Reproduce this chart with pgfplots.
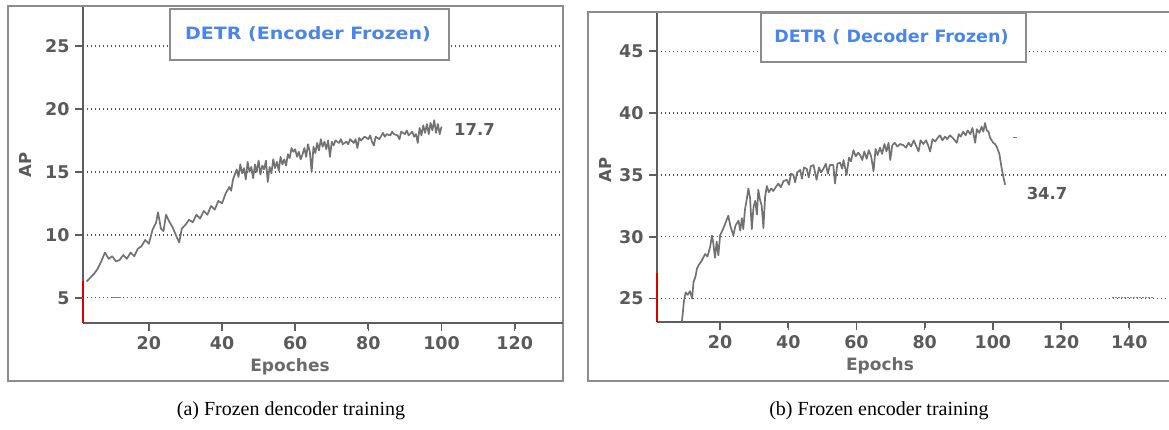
\documentclass[border=0pt]{standalone}
\usepackage{fontspec}
\setmainfont{Liberation Serif}
\newfontfamily\dejavu{DejaVu Sans}
\usepackage{pgfplots}
\pgfplotsset{compat=1.18}
\definecolor{tickgray}{HTML}{5A5A5A}
\definecolor{axisgray}{HTML}{5E5E5E}
\definecolor{framegray}{HTML}{8C8C8C}
\definecolor{gridgray}{HTML}{505050}
\definecolor{curvegray}{HTML}{727272}
\definecolor{titleblue}{HTML}{4A86E8}
\definecolor{labelgray}{HTML}{6A6A6A}
\tikzset{mytick/.style={draw=axisgray, line width=1.8bp}}
\pgfplotsset{
  panel/.style={
    scale only axis, clip=false,
    axis x line*=bottom, axis y line*=left,
    axis line style={draw=axisgray, line width=1.6bp},
    tick align=outside,
    major tick length=8bp,
    tick style={draw=axisgray, line width=1.5bp, solid},
    ymajorgrids,
    grid style={dash pattern=on 1.4bp off 2.6bp, line width=1.3bp, color=gridgray},
    /pgf/number format/assume math mode=true,
    tick label style={font=\dejavu\bfseries\fontsize{17.5bp}{20bp}\selectfont, text=tickgray},
    xticklabel style={yshift=-2bp},
    yticklabel style={xshift=-2bp},
    xtick={20,40,60,80,100,120,140},
  },
}
\begin{document}
\begin{tikzpicture}
\useasboundingbox (0,0) rectangle (1169bp,430bp);
% ---------- left panel ----------
\draw[framegray, line width=1.5bp] (8bp,49bp) rectangle (563bp,424bp);
\begin{axis}[panel,
  at={(83bp,107bp)}, anchor=south west, width=480bp, height=316bp,
  xmin=2, xmax=133.2, ymin=3, ymax=28.1,
  ytick={5,10,15,20,25}]
\pgfplotsinvokeforeach{5,10,15,20,25}{\coordinate (ly#1) at (axis cs:2,#1);}
\pgfplotsinvokeforeach{20,40,60,80,100,120}{\coordinate (lx#1) at (axis cs:#1,3);}
\addplot[red!85!black, line width=1.4bp] coordinates {(2.05,3) (2.05,6.3)};
\addplot[gray, line width=1.3bp] coordinates {(9.9,5.05) (12.5,5.05)};
\addplot[curvegray, line width=1.7bp, line join=round] coordinates {
(3,6.3) (4,6.6) (5,6.9) (6,7.3) (7,7.9) (8,8.6) (9,8.1) (10,8.3) (11,7.9) (12,8.0)
(13,8.4) (14,8.1) (15,8.6) (16,8.3) (17,8.9) (18,9.1) (19,9.6) (20,9.3) (21,10.4) (22,11.0)
(22.5,11.8) (23.3,10.5) (24,10.3) (24.7,11.6) (25.5,11.1) (26.5,10.6) (27.5,9.9) (28.3,9.4) (29,10.5) (30,10.8)
(31,11.2) (32,11.0) (33,11.6) (34,11.3) (35,11.9) (36,11.6) (37,12.3) (38,12.0) (39,12.7) (40,12.5)
(41,13.3) (42,13.8) (42.5,13.5) (43,14.4) (44,15.2) (44.5,14.6) (45,15.6) (45.5,14.9) (46,15.3) (46.5,14.4)
(47,15.8) (47.5,15.0) (48,15.4) (48.5,14.5) (49,15.6) (49.5,15.0) (50,15.9) (50.5,14.8) (51,15.5) (51.5,15.2)
(52,15.9) (52.5,14.2) (53,15.4) (53.5,14.9) (54,16.0) (54.5,15.3) (55,15.8) (55.5,15.1) (56,16.2) (56.5,15.6)
(57,16.0) (57.5,15.5) (58,16.4) (58.5,16.1) (59,16.9) (59.5,16.6) (60,16.8) (60.5,16.2) (61,16.6) (61.5,16.0)
(62,16.4) (62.5,16.9) (63,16.2) (63.5,17.2) (64,16.6) (64.5,15.0) (65,17.0) (65.5,16.5) (66,17.3) (66.5,16.7)
(67,17.6) (67.5,17.0) (68,17.4) (68.5,16.8) (69,17.5) (69.5,16.2) (70,17.4) (70.5,17.1) (71,17.5) (72,17.3)
(72.5,17.6) (73,17.2) (74,17.4) (74.5,17.2) (75,17.6) (76,17.3) (76.5,17.6) (77,16.9) (77.5,17.7) (78,17.5)
(79,17.8) (80,17.6) (80.5,17.9) (81,17.4) (81.5,17.1) (82,17.8) (83,17.6) (84,18.1) (84.5,17.8) (85,18.0)
(86,17.9) (86.5,18.2) (87,18.0) (88,17.9) (88.5,17.6) (89,18.2) (90,18.0) (90.5,18.3) (91,17.9) (92,18.2)
(92.5,17.8) (93,18.0) (93.5,17.3) (94,18.5) (94.5,17.9) (95,18.7) (95.5,18.1) (96,18.8) (96.5,18.0) (97,18.9)
(97.5,18.3) (98,19.1) (98.5,18.1) (99,18.8) (99.5,18.0) (100,18.6)};
\node[anchor=west, text=tickgray, font=\dejavu\bfseries\fontsize{16.5bp}{18bp}\selectfont] at (axis cs:102.5,18.4) {17.7};
\end{axis}
\foreach \v in {5,10,15,20,25} {\draw[mytick] (ly\v) -- ++(-8bp,0pt);}
\foreach \v in {20,40,60,80,100,120} {\draw[mytick] (lx\v) -- ++(0pt,-6bp);}
\fill[white] (170bp,370bp) rectangle (449bp,421bp);
\draw[framegray, line width=1.3bp] (170bp,370bp) rectangle (449bp,421bp);
\node[text=titleblue, xscale=1.12, font=\dejavu\bfseries\fontsize{17bp}{19bp}\selectfont] at (308bp,396bp) {DETR (Encoder Frozen)};
\node[text=labelgray, font=\dejavu\bfseries\fontsize{17bp}{19bp}\selectfont] at (290bp,63bp) {Epoches};
\node[text=tickgray, rotate=90, font=\dejavu\bfseries\fontsize{16.5bp}{18bp}\selectfont] at (25.5bp,265bp) {AP};
% ---------- right panel ----------
\draw[framegray, line width=1.5bp] (588bp,49bp) rectangle (1180bp,418bp);
\begin{axis}[panel,
  at={(657bp,108bp)}, anchor=south west, width=512bp, height=309bp,
  xmin=1.5, xmax=151.65, ymin=23.1, ymax=48.1,
  ytick={25,30,35,40,45}]
\pgfplotsinvokeforeach{25,30,35,40,45}{\coordinate (ry#1) at (axis cs:1.5,#1);}
\pgfplotsinvokeforeach{20,40,60,80,100,120,140}{\coordinate (rx#1) at (axis cs:#1,23.1);}
\addplot[red!85!black, line width=1.4bp] coordinates {(1.55,23.1) (1.55,27.1)};
\addplot[gray, line width=1.2bp, dash pattern=on 2bp off 1bp] coordinates {(135,25.05) (147,25.05)};
\addplot[curvegray, line width=1.3bp] coordinates {(106,38.0) (107,38.0)};
\addplot[curvegray, line width=1.7bp, line join=round] coordinates {
(8.8,23.1) (9.4,24.8) (9.9,25.5) (10.5,25.3) (11.2,25.6) (11.8,25.0) (12.2,26.3) (12.8,26.8) (13.2,27.4) (13.7,27.7)
(14.5,28.0) (15.6,28.6) (16.3,28.4) (17.1,29.2) (17.6,30.1) (18.0,29.5) (18.5,28.3) (19.0,29.6) (19.5,28.5) (20.0,30.1)
(21.0,30.7) (21.7,31.2) (22.4,31.7) (23.0,30.9) (23.9,30.1) (24.5,30.9) (25.4,31.3) (25.9,30.5) (26.4,31.5) (26.8,30.6)
(27.3,32.2) (27.8,33.0) (28.3,33.9) (28.8,33.1) (29.3,30.6) (29.8,32.4) (30.3,32.9) (30.8,31.8) (31.2,33.8) (31.7,33.0)
(32.2,32.5) (32.7,30.7) (33.2,33.2) (33.7,34.1) (34.3,33.6) (35.0,33.9) (35.6,33.7) (36.3,34.0) (37.1,34.3) (37.8,34.0)
(38.6,34.5) (39.6,34.6) (40.2,34.2) (40.8,35.1) (41.5,35.0) (42.0,34.4) (42.6,35.2) (43.5,35.4) (44.0,34.7) (44.6,35.6)
(45.4,35.5) (46.0,34.8) (46.6,35.7) (47.4,35.8) (48.3,34.6) (49.0,35.6) (49.6,35.2) (50.3,35.5) (51.0,35.9) (51.6,35.1)
(52.2,35.8) (53.2,35.8) (53.7,34.3) (54.4,35.9) (55.2,36.0) (55.8,35.5) (56.2,36.2) (57.1,35.0) (57.8,36.4) (58.4,36.1)
(59.1,37.0) (59.8,36.5) (60.5,36.8) (61.1,36.6) (61.7,36.2) (62.3,36.9) (63.0,36.3) (63.6,37.0) (64.3,36.5) (65.0,35.3)
(65.6,37.1) (66.2,36.6) (66.9,37.2) (67.5,36.7) (68.2,37.5) (68.8,36.9) (69.4,37.6) (69.9,36.2) (70.5,37.4) (71.2,37.6)
(72.0,37.3) (72.8,37.5) (73.8,37.4) (74.5,37.2) (75.3,37.6) (76.0,37.3) (76.8,37.8) (77.4,37.4) (78.2,36.9) (78.8,37.8)
(79.6,37.5) (80.4,37.8) (81.0,37.4) (81.6,36.9) (82.3,37.9) (83.1,37.7) (83.8,38.0) (84.5,38.2) (85.2,37.8) (86.0,38.1)
(86.6,37.9) (87.4,38.2) (88.2,38.0) (88.8,37.8) (89.4,37.6) (90.0,38.3) (90.6,38.1) (91.3,38.5) (92.0,38.2) (92.6,38.6)
(93.4,38.3) (94.0,38.8) (94.8,37.6) (95.3,38.7) (96.0,38.4) (96.7,38.9) (97.2,38.5) (97.7,39.2) (98.2,38.6) (98.7,38.5)
(99.2,38.0) (100.1,37.6) (100.6,37.5) (101.1,37.3) (101.5,37.0) (101.9,36.7) (102.3,36.0) (102.6,35.5) (103.1,34.8) (103.6,34.2)};
\node[anchor=west, text=tickgray, font=\dejavu\bfseries\fontsize{16.5bp}{18bp}\selectfont] at (axis cs:108.9,33.5) {34.7};
\end{axis}
\foreach \v in {25,30,35,40,45} {\draw[mytick] (ry\v) -- ++(-8bp,0pt);}
\foreach \v in {20,40,60,80,100,120,140} {\draw[mytick] (rx\v) -- ++(0pt,-6bp);}
\fill[white] (761bp,368bp) rectangle (1026bp,417bp);
\draw[framegray, line width=1.3bp] (761bp,368bp) rectangle (1026bp,417bp);
\node[text=titleblue, xscale=1.03, font=\dejavu\bfseries\fontsize{17bp}{19bp}\selectfont] at (891.5bp,393bp) {DETR ( Decoder Frozen)};
\node[text=labelgray, font=\dejavu\bfseries\fontsize{17bp}{19bp}\selectfont] at (880bp,64bp) {Epochs};
\node[text=tickgray, rotate=90, font=\dejavu\bfseries\fontsize{16.5bp}{18bp}\selectfont] at (605bp,260bp) {AP};
% ---------- captions ----------
\node[font=\fontsize{20bp}{24bp}\selectfont] at (291bp,19bp) {(a) Frozen dencoder training};
\node[font=\fontsize{20bp}{24bp}\selectfont] at (879bp,19bp) {(b) Frozen encoder training};
\end{tikzpicture}
\end{document}
